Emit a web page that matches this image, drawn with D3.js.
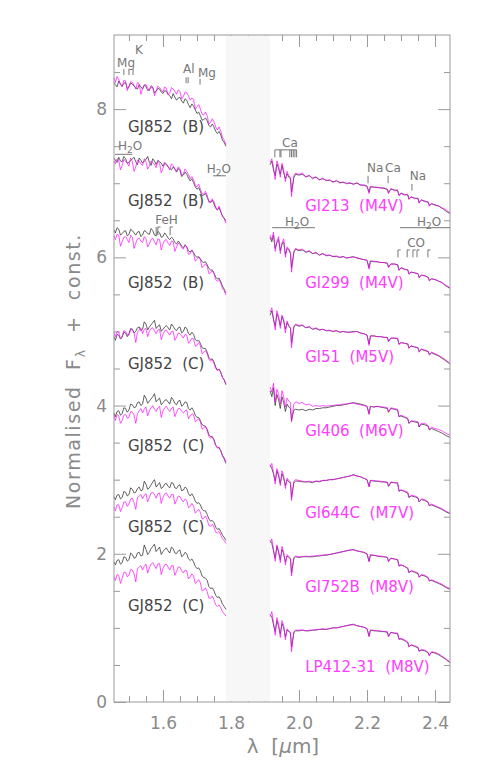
<!DOCTYPE html>
<html><head><meta charset="utf-8">
<script src="https://cdn.jsdelivr.net/npm/d3@7"></script>
<style>
body{margin:0;background:#fff;}
svg{display:block;}
text{font-family:"DejaVu Sans","Liberation Sans",sans-serif;}
</style>
</head><body>
<svg id="c" width="485" height="775"></svg>
<script>
// ---------------- DATA ----------------
const xDomain = [1.456, 2.444];
const yDomain = [0, 9];
const gapRange = [1.785, 1.915];
const xMajorTicks = [1.6, 1.8, 2.0, 2.2, 2.4];
const yMajorTicks = [0, 2, 4, 6, 8];

const rowOffsets = [6, 5, 4, 3, 2, 1, 0];
const leftNames = ["GJ852 (B)","GJ852 (B)","GJ852 (B)","GJ852 (C)","GJ852 (C)","GJ852 (C)","GJ852 (C)"];
const rightNames = ["Gl213 (M4V)","Gl299 (M4V)","Gl51 (M5V)","Gl406 (M6V)","Gl644C (M7V)","Gl752B (M8V)","LP412-31 (M8V)"];

const wlLeft = [1.456,1.46,1.465,1.47,1.475,1.48,1.485,1.49,1.495,1.50,1.505,1.51,1.515,1.52,1.525,1.53,1.535,1.54,1.545,1.55,1.555,1.56,1.565,1.57,1.575,1.58,1.585,1.59,1.595,1.60,1.605,1.61,1.615,1.62,1.625,1.63,1.635,1.64,1.645,1.65,1.655,1.66,1.665,1.67,1.675,1.68,1.685,1.69,1.695,1.70,1.705,1.71,1.715,1.72,1.725,1.73,1.735,1.74,1.745,1.75,1.755,1.76,1.765,1.77,1.775,1.78,1.785];
const wlRight = [1.915,1.92,1.925,1.93,1.935,1.94,1.945,1.95,1.955,1.96,1.965,1.97,1.975,1.978,1.985,1.99,
 2.00,2.01,2.02,2.03,2.04,2.05,2.06,2.07,2.08,2.09,2.10,2.11,2.12,2.13,2.14,2.15,2.16,2.17,2.18,2.19,2.20,2.206,
 2.21,2.22,2.23,2.24,2.25,2.26,2.263,2.27,2.28,2.29,2.294,2.30,2.31,2.32,2.323,2.33,2.34,2.35,2.353,2.36,2.37,2.38,2.383,
 2.39,2.40,2.41,2.42,2.43,2.444];

// H band (left): GJ852 (dark) and comparison star (magenta), flux without row offset
const gjH1 = [2.36,2.33,2.30,2.38,2.34,2.31,2.35,2.36,2.28,2.30,2.35,2.34,2.31,2.29,2.27,2.33,2.30,2.27,2.32,2.31,2.25,2.26,2.30,2.29,2.22,2.24,2.28,2.27,2.23,2.21,2.25,2.24,2.20,2.18,2.14,2.21,2.16,2.12,2.15,2.16,2.11,2.08,2.14,2.12,2.06,2.02,2.07,2.04,1.99,1.94,1.96,1.91,1.85,1.86,1.88,1.84,1.78,1.76,1.80,1.76,1.70,1.67,1.70,1.65,1.58,1.55,1.50];
const cmpH1 = [2.42,2.36,2.44,2.40,2.33,2.30,2.39,2.38,2.25,2.31,2.37,2.36,2.32,2.27,2.36,2.34,2.20,2.28,2.33,2.33,2.29,2.25,2.32,2.30,2.18,2.24,2.31,2.29,2.26,2.23,2.30,2.28,2.19,2.22,2.29,2.27,2.24,2.20,2.26,2.24,2.14,2.17,2.23,2.22,2.18,2.12,2.15,2.13,2.00,2.03,2.06,2.00,1.93,1.92,1.96,1.91,1.80,1.82,1.87,1.83,1.76,1.72,1.76,1.70,1.62,1.58,1.52];
const gjH2 = [2.34,2.31,2.28,2.35,2.30,2.29,2.36,2.33,2.27,2.28,2.31,2.33,2.35,2.29,2.25,2.34,2.31,2.27,2.30,2.32,2.36,2.28,2.24,2.33,2.30,2.25,2.31,2.29,2.27,2.23,2.28,2.26,2.22,2.20,2.18,2.22,2.19,2.15,2.20,2.17,2.09,2.11,2.15,2.12,2.07,2.03,2.06,2.01,1.95,1.92,1.94,1.89,1.83,1.84,1.86,1.81,1.76,1.74,1.77,1.72,1.66,1.64,1.67,1.61,1.56,1.53,1.49];
const cmpH2 = [2.30,2.26,2.33,2.31,2.18,2.24,2.32,2.30,2.27,2.23,2.34,2.29,2.16,2.22,2.31,2.30,2.26,2.24,2.33,2.29,2.19,2.23,2.30,2.28,2.25,2.21,2.30,2.27,2.14,2.20,2.27,2.25,2.22,2.18,2.26,2.24,2.19,2.16,2.22,2.20,2.10,2.13,2.19,2.16,2.12,2.06,2.09,2.05,1.97,1.95,1.99,1.92,1.86,1.85,1.89,1.84,1.74,1.75,1.79,1.75,1.68,1.64,1.69,1.62,1.55,1.52,1.46];
const gjH3 = [2.37,2.33,2.40,2.38,2.30,2.32,2.35,2.36,2.29,2.31,2.38,2.36,2.33,2.30,2.34,2.35,2.28,2.30,2.36,2.35,2.32,2.31,2.39,2.36,2.30,2.29,2.35,2.33,2.27,2.28,2.33,2.30,2.26,2.24,2.27,2.25,2.20,2.18,2.22,2.19,2.15,2.13,2.17,2.14,2.09,2.07,2.10,2.06,2.02,2.00,2.01,1.98,1.94,1.93,1.94,1.90,1.85,1.83,1.83,1.79,1.73,1.71,1.72,1.67,1.61,1.57,1.52];
const cmpH3 = [2.29,2.24,2.31,2.30,2.15,2.21,2.27,2.28,2.24,2.20,2.30,2.27,2.12,2.19,2.25,2.26,2.22,2.20,2.28,2.25,2.14,2.18,2.24,2.26,2.21,2.17,2.25,2.24,2.10,2.18,2.23,2.24,2.19,2.16,2.22,2.21,2.08,2.14,2.19,2.18,2.13,2.11,2.16,2.14,2.04,2.05,2.09,2.06,1.95,1.97,2.00,1.97,1.86,1.89,1.91,1.88,1.78,1.79,1.82,1.78,1.70,1.68,1.70,1.65,1.58,1.55,1.49];
const gjH4 = [1.93,1.88,1.96,1.95,1.90,1.92,1.99,1.98,1.93,1.97,2.04,2.03,1.98,2.00,2.05,2.06,2.01,2.03,2.13,2.10,2.02,2.06,2.09,2.12,2.15,2.04,2.07,2.09,2.00,2.03,2.06,2.08,2.05,2.02,2.10,2.07,2.03,2.01,2.05,2.06,1.98,2.00,2.06,2.04,1.97,1.95,1.99,1.96,1.89,1.87,1.88,1.84,1.78,1.77,1.77,1.72,1.65,1.62,1.63,1.59,1.52,1.48,1.49,1.45,1.38,1.35,1.28];
const cmpH4 = [1.98,1.93,2.00,1.99,1.90,1.94,2.01,2.00,1.96,1.95,2.03,2.02,1.98,1.85,1.99,2.02,2.05,1.97,2.03,2.04,1.93,2.00,2.04,2.05,2.01,1.97,2.02,2.03,1.89,1.96,2.01,2.02,1.98,1.95,2.00,2.00,1.88,1.92,1.98,1.97,1.94,1.91,1.96,1.95,1.84,1.87,1.91,1.90,1.80,1.81,1.85,1.81,1.70,1.72,1.74,1.70,1.62,1.60,1.62,1.57,1.50,1.47,1.49,1.44,1.38,1.34,1.30];
const gjH5 = [1.90,1.85,1.92,1.93,1.87,1.89,1.97,1.96,1.91,1.94,2.02,2.01,1.97,1.98,2.04,2.05,2.00,2.02,2.14,2.10,2.03,2.06,2.09,2.12,2.16,2.05,2.08,2.10,2.01,2.04,2.07,2.08,2.05,2.02,2.11,2.08,2.03,2.01,2.06,2.07,1.99,2.01,2.05,2.04,1.96,1.94,1.97,1.93,1.87,1.84,1.84,1.80,1.74,1.73,1.72,1.68,1.61,1.58,1.58,1.54,1.47,1.43,1.43,1.39,1.32,1.28,1.22];
const cmpH5 = [1.87,1.80,1.88,1.86,1.76,1.80,1.87,1.88,1.83,1.84,1.92,1.91,1.87,1.76,1.89,1.93,1.96,1.90,1.95,1.98,1.86,1.93,1.97,2.00,1.95,1.92,1.97,1.99,1.84,1.93,1.97,1.99,1.95,1.92,1.96,1.98,1.85,1.91,1.96,1.96,1.92,1.90,1.93,1.94,1.82,1.86,1.89,1.88,1.78,1.80,1.82,1.78,1.68,1.70,1.72,1.66,1.58,1.56,1.58,1.53,1.46,1.43,1.44,1.39,1.33,1.30,1.24];
const gjH6 = [1.77,1.73,1.79,1.80,1.74,1.76,1.84,1.83,1.78,1.80,1.89,1.87,1.82,1.83,1.88,1.90,1.85,1.86,1.98,1.94,1.87,1.89,1.93,1.97,2.00,1.90,1.93,1.96,1.88,1.90,1.94,1.95,1.91,1.89,1.96,1.95,1.89,1.88,1.92,1.93,1.85,1.86,1.90,1.88,1.81,1.78,1.81,1.77,1.71,1.68,1.69,1.66,1.60,1.58,1.58,1.53,1.47,1.44,1.45,1.42,1.36,1.33,1.34,1.30,1.25,1.22,1.18];
const cmpH6 = [1.63,1.58,1.66,1.66,1.57,1.62,1.70,1.70,1.64,1.67,1.74,1.75,1.69,1.60,1.76,1.78,1.80,1.74,1.79,1.81,1.70,1.76,1.82,1.83,1.80,1.75,1.81,1.82,1.68,1.76,1.81,1.82,1.78,1.75,1.80,1.80,1.67,1.72,1.78,1.77,1.73,1.70,1.74,1.72,1.62,1.64,1.68,1.64,1.55,1.57,1.60,1.56,1.47,1.48,1.51,1.46,1.38,1.37,1.40,1.36,1.29,1.28,1.30,1.25,1.20,1.18,1.14];
const gjH7 = [1.89,1.85,1.91,1.92,1.86,1.88,1.96,1.95,1.90,1.92,2.01,1.99,1.94,1.95,2.01,2.02,1.97,1.98,2.12,2.06,1.99,2.02,2.07,2.10,2.13,2.03,2.06,2.09,1.99,2.03,2.06,2.08,2.04,2.01,2.09,2.07,2.01,2.00,2.04,2.05,1.96,1.98,2.02,2.00,1.93,1.91,1.93,1.89,1.83,1.80,1.81,1.77,1.70,1.68,1.67,1.64,1.56,1.53,1.54,1.50,1.44,1.41,1.42,1.38,1.32,1.29,1.25];
const cmpH7 = [1.69,1.64,1.72,1.71,1.60,1.67,1.75,1.75,1.69,1.71,1.79,1.78,1.73,1.62,1.80,1.82,1.84,1.78,1.83,1.86,1.74,1.81,1.86,1.88,1.84,1.80,1.86,1.87,1.72,1.80,1.85,1.86,1.82,1.78,1.84,1.84,1.71,1.76,1.82,1.82,1.77,1.74,1.78,1.77,1.66,1.69,1.73,1.70,1.60,1.62,1.65,1.61,1.50,1.51,1.54,1.49,1.40,1.40,1.43,1.38,1.31,1.29,1.31,1.27,1.22,1.19,1.16];

// K band (right)
const gjK1 = [1.25,1.30,1.18,1.10,1.26,1.20,1.12,1.24,1.14,1.06,1.13,1.08,1.06,0.88,1.08,1.12,
 1.11,1.12,1.09,1.10,1.07,1.08,1.05,1.06,1.04,1.04,1.02,1.03,1.01,1.01,1.00,1.00,0.99,1.00,0.98,0.97,
 0.96,0.88,0.95,0.95,0.94,0.94,0.93,0.92,0.87,0.92,0.91,0.90,0.84,0.86,0.85,0.84,0.79,0.81,0.80,0.79,
 0.74,0.77,0.76,0.74,0.70,0.72,0.71,0.69,0.67,0.63,0.59];
const cmpK1 = [1.28,1.33,1.22,1.05,1.30,1.24,1.08,1.27,1.18,1.02,1.16,1.10,1.08,0.82,1.10,1.14,
 1.12,1.14,1.08,1.11,1.06,1.09,1.04,1.07,1.03,1.05,1.01,1.04,1.00,1.02,0.99,1.01,0.98,1.01,0.97,0.98,
 0.96,0.86,0.96,0.94,0.95,0.93,0.94,0.91,0.86,0.93,0.90,0.91,0.83,0.87,0.84,0.85,0.78,0.82,0.79,0.80,
 0.73,0.78,0.75,0.75,0.69,0.73,0.70,0.70,0.66,0.65,0.60];
const gjK2 = [1.27,1.21,1.30,1.12,1.20,1.24,1.09,1.18,1.21,1.04,1.12,1.10,1.05,0.86,1.07,1.11,
 1.09,1.10,1.07,1.08,1.05,1.06,1.03,1.05,1.02,1.03,1.01,1.01,1.00,1.01,0.99,1.00,1.01,0.99,0.98,0.97,
 0.96,0.86,0.95,0.94,0.94,0.93,0.93,0.92,0.87,0.91,0.91,0.90,0.83,0.86,0.84,0.83,0.78,0.80,0.79,0.78,
 0.73,0.76,0.75,0.73,0.69,0.71,0.70,0.68,0.66,0.62,0.58];
const cmpK2 = [1.30,1.24,1.34,1.08,1.22,1.28,1.05,1.20,1.25,1.00,1.14,1.12,1.06,0.80,1.08,1.12,
 1.10,1.11,1.07,1.09,1.05,1.07,1.03,1.05,1.03,1.03,1.01,1.02,1.00,1.01,0.99,1.00,1.00,1.00,0.98,0.97,
 0.96,0.84,0.95,0.95,0.94,0.93,0.93,0.92,0.86,0.91,0.91,0.90,0.82,0.86,0.84,0.83,0.77,0.80,0.79,0.78,
 0.72,0.76,0.75,0.73,0.68,0.71,0.70,0.68,0.66,0.63,0.59];
const gjK3 = [1.22,1.28,1.16,1.07,1.24,1.18,1.08,1.20,1.14,1.03,1.12,1.07,1.04,0.84,1.06,1.09,
 1.07,1.08,1.05,1.06,1.03,1.04,1.02,1.03,1.01,1.01,1.00,1.01,0.99,1.00,0.99,0.99,1.00,1.00,0.98,0.97,
 0.95,0.83,0.94,0.94,0.93,0.93,0.92,0.92,0.87,0.91,0.91,0.90,0.83,0.85,0.84,0.83,0.78,0.80,0.79,0.78,
 0.73,0.76,0.74,0.73,0.69,0.71,0.69,0.67,0.64,0.61,0.56];
const cmpK3 = [1.26,1.32,1.18,1.02,1.28,1.20,1.04,1.22,1.16,0.98,1.14,1.08,1.05,0.78,1.07,1.10,
 1.08,1.09,1.05,1.07,1.03,1.05,1.02,1.03,1.01,1.02,1.00,1.01,0.99,1.00,0.99,0.99,0.99,1.00,0.98,0.97,
 0.95,0.81,0.94,0.94,0.93,0.93,0.92,0.92,0.86,0.91,0.91,0.91,0.82,0.85,0.84,0.83,0.77,0.81,0.79,0.78,
 0.72,0.76,0.75,0.73,0.68,0.72,0.70,0.68,0.65,0.62,0.57];
const gjK4 = [1.20,1.12,1.24,1.00,1.15,1.08,0.96,1.12,1.04,0.92,1.02,0.98,0.96,0.80,0.94,0.95,
 0.94,0.95,0.93,0.95,0.94,0.96,0.96,0.97,0.97,0.98,0.99,1.00,1.00,1.01,1.02,1.03,1.04,1.03,1.02,1.01,
 0.99,0.89,0.99,0.98,0.99,0.98,0.97,0.96,0.91,0.96,0.95,0.94,0.85,0.86,0.84,0.82,0.76,0.79,0.78,0.77,
 0.71,0.75,0.74,0.72,0.67,0.69,0.67,0.65,0.63,0.60,0.57];
const cmpK4 = [1.25,1.18,1.30,1.05,1.22,1.15,1.02,1.20,1.12,0.98,1.10,1.06,1.04,0.78,1.02,1.05,
 1.03,1.04,1.01,1.02,0.99,1.00,0.99,1.00,0.99,1.00,1.00,1.01,1.01,1.02,1.02,1.03,1.03,1.02,1.01,1.00,
 0.99,0.88,0.99,0.98,0.99,0.98,0.98,0.97,0.91,0.97,0.96,0.95,0.85,0.87,0.85,0.83,0.76,0.79,0.79,0.78,
 0.72,0.76,0.76,0.73,0.68,0.71,0.69,0.68,0.66,0.63,0.60];
const gjK5 = [1.20,1.15,1.08,0.98,1.12,1.05,0.95,1.08,1.02,0.92,1.00,0.97,0.95,0.76,0.96,0.98,
 0.98,0.97,0.97,0.97,0.96,0.98,0.97,0.99,0.99,1.00,1.00,1.01,1.02,1.03,1.04,1.05,1.07,1.05,1.04,1.02,
 1.00,0.91,0.99,0.98,0.98,0.97,0.97,0.96,0.91,0.96,0.96,0.95,0.85,0.86,0.84,0.82,0.76,0.78,0.77,0.75,
 0.70,0.73,0.72,0.69,0.65,0.66,0.64,0.62,0.60,0.57,0.54];
const cmpK5 = [1.17,1.22,1.10,0.94,1.15,1.08,0.92,1.12,1.05,0.88,1.02,0.99,0.97,0.72,0.98,1.00,
 0.99,0.98,0.97,0.98,0.97,0.98,0.98,0.99,0.99,1.00,1.00,1.01,1.02,1.03,1.04,1.05,1.06,1.05,1.04,1.02,
 1.00,0.90,0.99,0.99,0.98,0.98,0.97,0.97,0.91,0.97,0.96,0.96,0.84,0.86,0.85,0.83,0.76,0.79,0.78,0.76,
 0.70,0.74,0.73,0.70,0.65,0.67,0.65,0.63,0.61,0.58,0.55];
const gjK6 = [1.18,1.14,1.04,0.94,1.10,1.02,0.92,1.06,1.00,0.89,0.97,0.95,0.93,0.74,0.94,0.96,
 0.95,0.96,0.96,0.96,0.96,0.97,0.97,0.98,0.98,0.99,1.00,1.01,1.02,1.03,1.04,1.05,1.06,1.04,1.03,1.02,
 1.00,0.90,0.98,0.98,0.97,0.96,0.96,0.95,0.90,0.94,0.93,0.92,0.84,0.85,0.83,0.80,0.75,0.77,0.75,0.73,
 0.69,0.71,0.70,0.67,0.64,0.64,0.62,0.60,0.58,0.55,0.52];
const cmpK6 = [1.15,1.20,1.06,0.90,1.12,1.04,0.88,1.10,1.02,0.85,0.99,0.96,0.94,0.70,0.95,0.97,
 0.96,0.96,0.97,0.96,0.97,0.97,0.98,0.98,0.99,0.99,1.00,1.01,1.02,1.03,1.04,1.05,1.05,1.04,1.03,1.02,
 1.00,0.89,0.99,0.98,0.97,0.97,0.96,0.95,0.89,0.94,0.93,0.92,0.83,0.85,0.83,0.81,0.74,0.77,0.76,0.74,
 0.68,0.72,0.71,0.68,0.63,0.65,0.63,0.61,0.59,0.56,0.53];
const gjK7 = [1.18,1.15,1.04,0.95,1.10,1.02,0.92,1.06,1.00,0.88,0.97,0.95,0.93,0.74,0.94,0.96,
 0.96,0.97,0.96,0.96,0.97,0.97,0.98,0.98,0.98,0.99,1.00,1.00,1.01,1.02,1.03,1.04,1.05,1.03,1.02,1.01,
 0.99,0.89,0.97,0.96,0.96,0.95,0.95,0.94,0.89,0.94,0.93,0.92,0.85,0.85,0.83,0.80,0.75,0.77,0.75,0.73,
 0.69,0.70,0.69,0.66,0.63,0.67,0.66,0.64,0.61,0.58,0.53];
const cmpK7 = [1.15,1.22,1.08,0.90,1.14,1.05,0.87,1.10,1.03,0.84,0.99,0.96,0.94,0.68,0.95,0.97,
 0.97,0.97,0.96,0.97,0.97,0.98,0.98,0.99,0.98,0.99,1.00,1.00,1.01,1.02,1.03,1.04,1.04,1.03,1.02,1.01,
 0.99,0.88,0.97,0.97,0.96,0.96,0.95,0.95,0.88,0.94,0.93,0.93,0.84,0.86,0.84,0.81,0.74,0.77,0.76,0.74,
 0.68,0.71,0.70,0.67,0.62,0.68,0.67,0.65,0.62,0.59,0.54];

const gjH = [gjH1,gjH2,gjH3,gjH4,gjH5,gjH6,gjH7];
const cmpH = [cmpH1,cmpH2,cmpH3,cmpH4,cmpH5,cmpH6,cmpH7];
const gjK = [gjK1,gjK2,gjK3,gjK4,gjK5,gjK6,gjK7];
const cmpK = [cmpK1,cmpK2,cmpK3,cmpK4,cmpK5,cmpK6,cmpK7];

// Label anchors (wavelength, value)
const leftLabelPos = [[1.497,7.69],[1.497,6.69],[1.497,5.59],[1.497,4.49],[1.497,3.39],[1.497,2.29],[1.497,1.23]];
const rightLabelPos = [[2.018,6.62],[2.018,5.59],[2.018,4.59],[2.018,3.59],[2.018,2.48],[2.018,1.48],[2.018,0.40]];

// Feature annotations
const featText = [
  {t:"Mg",l:1.465,v:8.57},{t:"K",l:1.518,v:8.74},{t:"Al",l:1.659,v:8.49},{t:"Mg",l:1.703,v:8.43},
  {t:"H2O",l:1.468,v:7.45},{t:"H2O",l:1.729,v:7.14},{t:"FeH",l:1.577,v:6.45},
  {t:"Ca",l:1.950,v:7.49},{t:"Na",l:2.200,v:7.15},{t:"Ca",l:2.253,v:7.15},{t:"Na",l:2.326,v:7.04},
  {t:"H2O",l:1.959,v:6.42},{t:"H2O",l:2.347,v:6.42},{t:"CO",l:2.318,v:6.14}
];
const featBars = [
  [1.485,8.46,8.54],[1.500,8.46,8.54],[1.512,8.46,8.54],
  [1.668,8.35,8.43],[1.674,8.35,8.43],[1.709,8.33,8.41],
  [1.580,6.30,6.41],
  [1.929,7.35,7.45],[1.944,7.35,7.45],[1.947,7.35,7.45],[1.973,7.35,7.45],[1.978,7.35,7.45],[1.983,7.35,7.45],[1.988,7.35,7.45],[1.993,7.35,7.45],
  [2.203,7.00,7.10],[2.262,7.00,7.10],[2.332,6.90,6.99]
];
const featGammas = [
  [1.585,6.30,6.41],[1.621,6.30,6.41],
  [2.291,6.00,6.10],[2.318,6.00,6.10],[2.335,6.00,6.10],[2.347,6.00,6.10],[2.379,6.00,6.10]
];
const featLines = [
  [1.459,1.510,7.39],[1.747,1.785,7.10],[1.929,1.993,7.45],
  [1.921,2.047,6.40],[2.297,2.444,6.40]
];

// ---------------- DRAW ----------------
const svg = d3.select('#c');
const x = d3.scaleLinear().domain(xDomain).range([114, 450]);
const y = d3.scaleLinear().domain(yDomain).range([702, 35]);
const axisCol = '#9a9a9a', labCol = '#8a8a8a';

const xMinor = d3.range(1.50, 2.444, 0.05).filter(v => !xMajorTicks.some(m => Math.abs(m - v) < 1e-6));
const yMinor = d3.range(0.5, 9, 0.5).filter(v => !yMajorTicks.includes(v));

function styleAxis(g){ g.select('.domain').remove(); g.selectAll('line').attr('stroke',axisCol); g.selectAll('text').attr('fill',labCol).attr('font-size',17); }

svg.append('g').attr('transform',`translate(0,${y(0)})`).call(d3.axisBottom(x).tickValues(xMajorTicks).tickSize(-12).tickPadding(15).tickFormat(d3.format('.1f'))).call(styleAxis);
svg.append('g').attr('transform',`translate(0,${y(0)})`).call(d3.axisBottom(x).tickValues(xMinor).tickSize(-6).tickFormat('')).call(styleAxis);
svg.append('g').attr('transform',`translate(0,${y(9)})`).call(d3.axisTop(x).tickValues(xMajorTicks).tickSize(-12).tickFormat('')).call(styleAxis);
svg.append('g').attr('transform',`translate(0,${y(9)})`).call(d3.axisTop(x).tickValues(xMinor).tickSize(-6).tickFormat('')).call(styleAxis);
svg.append('g').attr('transform',`translate(${x(xDomain[0])},0)`).call(d3.axisLeft(y).tickValues(yMajorTicks).tickSize(-12).tickPadding(7).tickFormat(d3.format('d'))).call(styleAxis);
svg.append('g').attr('transform',`translate(${x(xDomain[0])},0)`).call(d3.axisLeft(y).tickValues(yMinor).tickSize(-6).tickFormat('')).call(styleAxis);
svg.append('g').attr('transform',`translate(${x(xDomain[1])},0)`).call(d3.axisRight(y).tickValues(yMajorTicks).tickSize(-12).tickFormat('')).call(styleAxis);
svg.append('g').attr('transform',`translate(${x(xDomain[1])},0)`).call(d3.axisRight(y).tickValues(yMinor).tickSize(-6).tickFormat('')).call(styleAxis);

// gap band
svg.append('rect').attr('x',x(gapRange[0])).attr('y',y(9)+0.5).attr('width',x(gapRange[1])-x(gapRange[0])).attr('height',y(0)-y(9)-1).attr('fill','#f7f7f7');

// spectra
const specG = svg.append('g');
function drawSpec(wl, vals, off, col, w, op){
  const n = Math.min(wl.length, vals.length);
  const pts = d3.range(n).map(i=>[wl[i], vals[i]]);
  const line = d3.line().x(d=>x(d[0])).y(d=>y(d[1]+off));
  specG.append('path').attr('d',line(pts)).attr('fill','none').attr('stroke',col).attr('stroke-width',w).attr('stroke-opacity',op).attr('stroke-linejoin','round');
}
rowOffsets.forEach((off,i)=>{
  drawSpec(wlLeft, gjH[i], off, '#3a3a3a', 0.8, 1);
  drawSpec(wlLeft, cmpH[i], off, '#ff00ff', 0.8, 0.85);
  drawSpec(wlRight, gjK[i], off, '#3a3a3a', 0.8, 1);
  drawSpec(wlRight, cmpK[i], off, '#ff00ff', 0.8, 0.85);
});

// frame
svg.append('rect').attr('x',x(xDomain[0])).attr('y',y(9)).attr('width',x(xDomain[1])-x(xDomain[0])).attr('height',y(0)-y(9)).attr('fill','none').attr('stroke',axisCol).attr('stroke-width',1);

// spectrum labels
leftNames.forEach((n,i)=>{
  svg.append('text').attr('x',x(leftLabelPos[i][0])).attr('y',y(leftLabelPos[i][1])).attr('font-size',15).attr('fill','#444').style('white-space','pre').text(n.replace(' ','  '));
});
rightNames.forEach((n,i)=>{
  svg.append('text').attr('x',x(rightLabelPos[i][0])).attr('y',y(rightLabelPos[i][1])).attr('font-size',15).attr('fill','#ff3cff').style('white-space','pre').text(n.replace(' ','  '));
});

// features
const fg = svg.append('g').attr('stroke','#777').attr('stroke-width',1).attr('fill','none');
featBars.forEach(b=>fg.append('line').attr('x1',x(b[0])).attr('x2',x(b[0])).attr('y1',y(b[1])).attr('y2',y(b[2])));
featGammas.forEach(b=>{
  fg.append('line').attr('x1',x(b[0])).attr('x2',x(b[0])).attr('y1',y(b[1])).attr('y2',y(b[2]));
  fg.append('line').attr('x1',x(b[0])).attr('x2',x(b[0]+0.008)).attr('y1',y(b[2])).attr('y2',y(b[2]));
});
featLines.forEach(b=>fg.append('line').attr('x1',x(b[0])).attr('x2',x(b[1])).attr('y1',y(b[2])).attr('y2',y(b[2])));
featText.forEach(f=>{
  const t = svg.append('text').attr('x',x(f.l)).attr('y',y(f.v)).attr('font-size',12).attr('fill','#777');
  if(f.t==='H2O'){ t.append('tspan').text('H'); t.append('tspan').attr('font-size',9).attr('dy',3).text('2'); t.append('tspan').attr('dy',-3).text('O'); }
  else t.text(f.t);
});

// axis titles
const yl = svg.append('text').attr('transform','translate(80,371) rotate(-90)').attr('text-anchor','middle').attr('font-size',19).attr('letter-spacing',1.6).attr('fill',labCol).style('white-space','pre');
yl.append('tspan').text('Normalised  F');
yl.append('tspan').attr('font-size',13).attr('dy',5).text('λ');
yl.append('tspan').attr('dy',-5).text('  +  const.');
const xl = svg.append('text').attr('x',283).attr('y',753).attr('text-anchor','middle').attr('font-size',20).attr('fill',labCol).style('white-space','pre');
xl.append('tspan').text('λ  [');
xl.append('tspan').attr('font-style','italic').text('μ');
xl.append('tspan').text('m]');
</script>
</body></html>
